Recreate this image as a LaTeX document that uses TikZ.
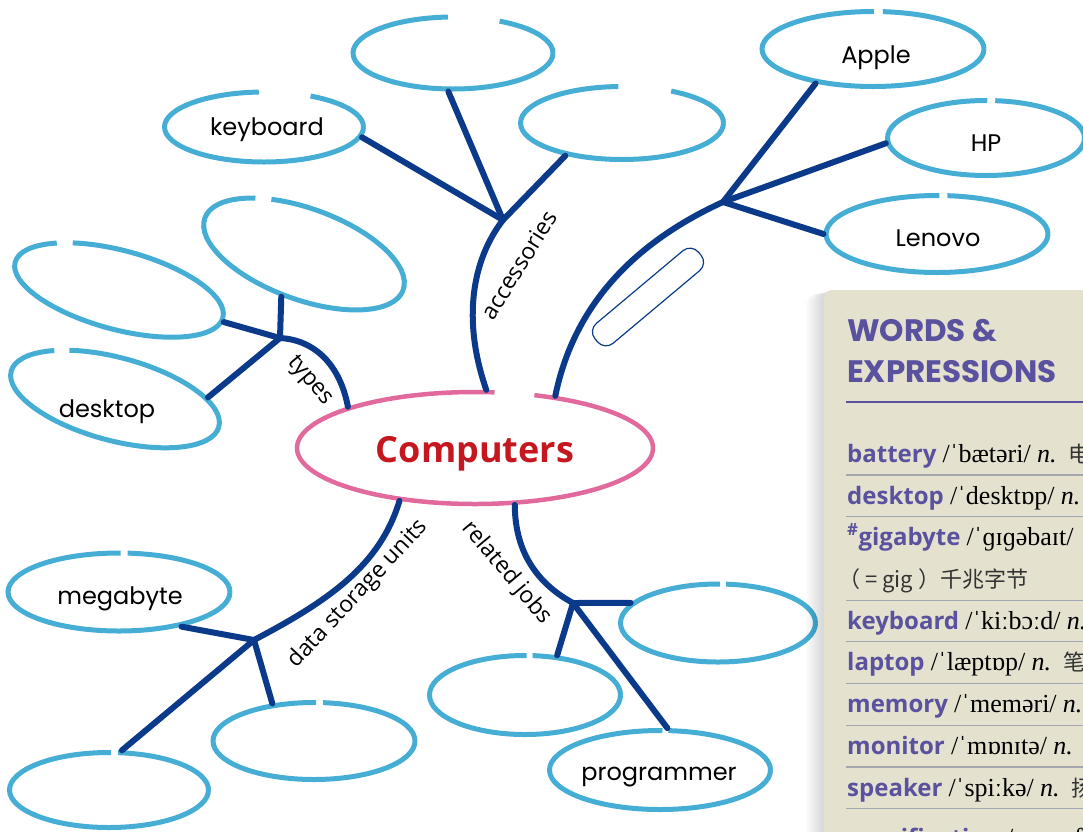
\documentclass[tikz,border=0pt]{standalone}
\usepackage{fontspec}
\setmainfont{Open Sans}
\newfontfamily\handfont{Poppins}
\newfontfamily\titlefont{Poppins}
\newfontfamily\ipafont{Liberation Serif}
\newfontfamily\zhfont{Noto Sans CJK SC}
\usetikzlibrary{shapes.geometric}

\definecolor{branchblue}{HTML}{0C3A8A}
\definecolor{ovalblue}{HTML}{46AED5}
\definecolor{centerpink}{HTML}{E2699B}
\definecolor{titlered}{HTML}{C4171F}
\definecolor{wordpurple}{HTML}{5A519F}
\definecolor{panelbg}{HTML}{E4E1CF}
\definecolor{rulegray}{HTML}{A3A6AC}
\definecolor{zhgray}{HTML}{333333}

\newcommand\hw[1]{{\bfseries\color{wordpurple}#1}}
\newcommand\ipa[1]{{\ipafont\fontsize{26}{30}\selectfont /#1/}}
\newcommand\pos{{\ipafont\fontsize{26}{30}\selectfont\itshape n.}}
\newcommand\zh[1]{{\zhfont\fontsize{22}{26}\selectfont\color{zhgray}#1}}

\tikzset{
  oval/.style n args={4}{ellipse, draw=ovalblue, line width=5pt, inner sep=0pt,
    minimum width=#1pt, minimum height=#2pt, dash pattern=on #3pt off #4pt on 2000pt},
  centeroval/.style={ellipse, draw=centerpink, line width=4.5pt, inner sep=0pt,
    minimum width=356pt, minimum height=112pt, dash pattern=on 137pt off 40pt on 2000pt},
  branch/.style={draw=branchblue, line width=6pt, line cap=round, line join=round},
  handlabel/.style={font=\handfont\fontsize{24}{28}\selectfont, inner sep=0pt},
  branchlabel/.style={font=\fontsize{23}{27}\selectfont, inner sep=0pt},
  labelbox/.style={draw=branchblue, line width=1.2pt, rounded corners=11pt,
    minimum width=135pt, minimum height=26pt},
  headtext/.style={anchor=base west, inner sep=0pt, text=wordpurple,
    font=\titlefont\bfseries\fontsize{31}{36}\selectfont},
  entry/.style={anchor=base west, inner sep=0pt, font=\fontsize{24}{28}\selectfont},
  sepline/.style={draw=rulegray, line width=1.2pt}
}

\begin{document}
\begin{tikzpicture}[x=1pt, y=-1pt]
\useasboundingbox (0,0) rectangle (1083,831);
\clip (0,0) rectangle (1083,831);

% centre
\node[centeroval] (cen) at (475,448) {};
\node[font=\bfseries\fontsize{36}{40}\selectfont, text=titlered, inner sep=0pt] (cenlabel) at (475,454) {Computers};

% ovals
\node[oval={200}{72}{66}{52}] (acctop) at (453,53) {};
\node[oval={199}{70}{65}{52}] (kbdoval) at (264,127) {};
\node[oval={203}{73}{65}{53}] (accright) at (622,123) {};
\node[oval={222}{75}{114}{9}] (appleoval) at (873,49) {};
\node[oval={197}{75}{103}{8}] (hpoval) at (986,138) {};
\node[oval={222}{77}{114}{8}] (lenovooval) at (937,234) {};
\node[oval={211}{91}{173}{16}, rotate=-20] (typestop) at (304,254) {};
\node[oval={215}{79}{179}{16}, rotate=-15] (typesleft) at (119,290) {};
\node[oval={215}{83}{180}{15}, rotate=-15] (desktopoval) at (115,399) {};
\node[oval={222}{78}{116}{7}] (megaoval) at (119,592) {};
\node[oval={199}{75}{104}{7}] (dataleft) at (109,790) {};
\node[oval={202}{77}{106}{7}] (dataright) at (314,741) {};
\node[oval={191}{79}{103}{6}] (jobsleft) at (525,695) {};
\node[oval={195}{78}{104}{6}] (jobsright) at (718,623) {};
\node[oval={221}{79}{116}{6}] (progoval) at (660,770) {};

\node[handlabel] (kbdtext) at (267,130) {keyboard};
\node[handlabel] (appletext) at (876,58) {Apple};
\node[handlabel] (hptext) at (986,143) {HP};
\node[handlabel] (lenovotext) at (938,238) {Lenovo};
\node[handlabel] (desktoptext) at (107,412) {desktop};
\node[handlabel] (megatext) at (120,599) {megabyte};
\node[handlabel] (progtext) at (659,777) {programmer};

% junctions
\coordinate (accjoint) at (503,220);
\coordinate (brandjoint) at (723,202);
\coordinate (typejoint) at (280,338);
\coordinate (datajoint) at (254,640);
\coordinate (jobjoint) at (573,603);

% branches
\draw[branch] (cen.79) .. controls (462,320) and (472,260) .. (accjoint) -- (accright.-150);
\draw[branch] (accjoint) -- (kbdoval.-6);
\draw[branch] (accjoint) -- (acctop.-97);
\draw[branch] (cen.33) .. controls (575,300) and (640,240) .. (brandjoint);
\draw[branch] (brandjoint) -- (appleoval.-149);
\draw[branch] (brandjoint) -- (hpoval.-177);
\draw[branch] (brandjoint) -- (lenovooval.180);
\draw[branch] (cen.162) .. controls (340,365) and (315,340) .. (typejoint);
\draw[branch] (typejoint) -- (typestop.-98);
\draw[branch] (typejoint) -- (typesleft.-2);
\draw[branch] (typejoint) -- (desktopoval.16);
\draw[branch] (cen.-145) .. controls (380,565) and (330,600) .. (datajoint) -- (dataleft.72);
\draw[branch] (datajoint) -- (megaoval.-29);
\draw[branch] (datajoint) -- (dataright.138);
\draw[branch] (cen.-55) .. controls (515,555) and (540,585) .. (jobjoint) -- (progoval.80);
\draw[branch] (jobjoint) -- (jobsright.167);
\draw[branch] (jobjoint) -- (jobsleft.51);

\node[branchlabel, rotate=58] (acclabel) at (519,265) {accessories};
\node[branchlabel, rotate=-50] (typelabel) at (310,381) {types};
\node[branchlabel, rotate=47] (datalabel) at (358,594) {data storage units};
\node[branchlabel, rotate=-50] (joblabel) at (507,573) {related jobs};
\node[labelbox, rotate=40] (brandbox) at (648,297) {};

% words panel
\foreach \s in {1,...,10}
  \fill[black, opacity=0.015, rounded corners=10pt] (824-\s*1.8,290+\s*0.4) rectangle (1100,860);
\fill[panelbg, rounded corners=8pt] (824,290) rectangle (1100,860);
\node[headtext] (wordshead) at (847,341) {WORDS \&};
\node[headtext] (exprhead) at (847,382) {EXPRESSIONS};
\draw[wordpurple, line width=2.5pt] (846,402) -- (1090,402);
\foreach \k in {0,1,3,4,5,6,7,8}
  \draw[sepline] (846,475+41.7*\k) -- (1090,475+41.7*\k);

\node[entry] (battery) at (847,462) {\hw{battery} \ipa{ˈbætəri} \pos\hspace{12pt}\zh{电}};
\node[entry] (desktop) at (847,504) {\hw{desktop} \ipa{ˈdesktɒp} \pos};
\node[entry] (gigabyte) at (847,545) {\hw{\textsuperscript{\#}gigabyte} \ipa{ˈɡɪɡəbaɪt}};
\node[entry] (gig) at (838,587) {\zh{（ = gig ）千兆字节}};
\node[entry] (keyboard) at (847,629) {\hw{keyboard} \ipa{ˈkiːbɔːd} \pos};
\node[entry] (laptop) at (847,670) {\hw{laptop} \ipa{ˈlæptɒp} \pos\hspace{12pt}\zh{笔}};
\node[entry] (memory) at (847,712) {\hw{memory} \ipa{ˈmeməri} \pos};
\node[entry] (monitor) at (847,754) {\hw{monitor} \ipa{ˈmɒnɪtə} \pos};
\node[entry] (speaker) at (847,796) {\hw{speaker} \ipa{ˈspiːkə} \pos\hspace{12pt}\zh{扬}};
\node[entry] (specification) at (847,846) {\hw{specification} \ipa{ˌspesɪfɪˈkeɪʃn} \pos};
\end{tikzpicture}
\end{document}
